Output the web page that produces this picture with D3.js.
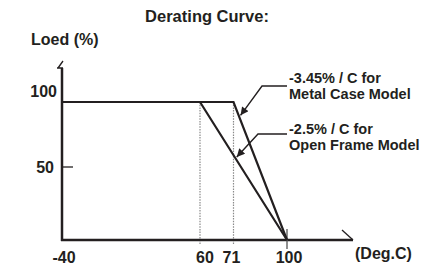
<!DOCTYPE html>
<html>
<head>
<meta charset="utf-8">
<script src="https://cdn.jsdelivr.net/npm/d3@7"></script>
<style>
  body { margin: 0; background: #fff; }
  svg { display: block; }
  text { font-family: "Liberation Sans", Arial, sans-serif; font-weight: bold; fill: #231f20; }
</style>
</head>
<body>
<svg class="chart"></svg>
<script>
// temperature ticks (Deg.C) and load ticks (%)
const xTicks = [-40, 60, 71, 100];
const yTicks = [50, 100];

// derating curves: [temperature, load %]
const metalCase = [[-40, 100], [71, 100], [100, 0]];
const openFrame = [[-40, 100], [60, 100], [100, 0]];

// callouts: text and the load (%) on the sloped part where the arrow lands
const notes = [
  { lines: ['-3.45% / C for', 'Metal Case Model'], curve: metalCase, load: 89 },
  { lines: ['-2.5% / C for', 'Open Frame Model'], curve: openFrame, load: 57 }
];

const W = 447, H = 270;
const ink = '#231f20';

const svg = d3.select('.chart').attr('width', W).attr('height', H);

// the drawing is not to scale, so piecewise scales keep the ticks where they sit
const x = d3.scaleLinear().domain(xTicks).range([62, 200, 233.5, 287]);
const y = d3.scaleLinear().domain([0, 50, 100]).range([240, 167, 102]);
const xEnd = 353, yTop = 68;

svg.append('defs').append('marker')
  .attr('id', 'arrow')
  .attr('viewBox', '0 0 10 10')
  .attr('refX', 10).attr('refY', 5)
  .attr('markerWidth', 11).attr('markerHeight', 8)
  .attr('markerUnits', 'userSpaceOnUse')
  .attr('orient', 'auto')
  .append('path').attr('d', 'M0,0 L10,5 L0,10 Z').attr('fill', ink);

// title and axis titles
svg.append('text').attr('x', 207).attr('y', 22).attr('text-anchor', 'middle')
  .style('font-size', '16.5px').text('Derating Curve:');
svg.append('text').attr('x', 31).attr('y', 45)
  .style('font-size', '16px').text('Loed (%)');
svg.append('text').attr('x', 355).attr('y', 259)
  .style('font-size', '16px').text('(Deg.C)');

// dotted guides at the knee temperatures
svg.selectAll('.guide')
  .data(xTicks.filter(d => d > -40 && d < 100))
  .enter().append('line')
  .attr('class', 'guide')
  .attr('x1', d => x(d)).attr('x2', d => x(d))
  .attr('y1', y(100)).attr('y2', y(0) + 5)
  .attr('stroke', '#8a8a8a').attr('stroke-width', 1.2)
  .attr('stroke-dasharray', '1.5,1.2');

// axes
svg.append('line')
  .attr('x1', x(-40)).attr('x2', x(-40)).attr('y1', yTop).attr('y2', y(0) + 1)
  .attr('stroke', ink).attr('stroke-width', 2.5);
svg.append('line')
  .attr('x1', x(-40) - 1).attr('x2', xEnd).attr('y1', y(0)).attr('y2', y(0))
  .attr('stroke', ink).attr('stroke-width', 2.5);

// little break marks at the axis ends
svg.append('path')
  .attr('d', `M${x(-40) - 5},${yTop} L${x(-40) + 1},${yTop} M${x(-40) - 4},${yTop} L${x(-40) + 1},${yTop - 7}`)
  .attr('fill', 'none').attr('stroke', ink).attr('stroke-width', 1.3);
svg.append('path')
  .attr('d', `M${xEnd},${y(0)} L${xEnd - 11},${y(0) - 10}`)
  .attr('fill', 'none').attr('stroke', ink).attr('stroke-width', 1.3);

// y ticks and labels
svg.selectAll('.ytick')
  .data(yTicks.filter(d => d < 100))
  .enter().append('line')
  .attr('x1', x(-40)).attr('x2', x(-40) + 11)
  .attr('y1', d => y(d)).attr('y2', d => y(d))
  .attr('stroke', ink).attr('stroke-width', 1.3);
svg.selectAll('.ylabel')
  .data(yTicks)
  .enter().append('text')
  .attr('x', d => d === 100 ? 57 : 54)
  .attr('y', d => y(d) + (d === 100 ? -5 : 6))
  .attr('text-anchor', 'end')
  .style('font-size', '16px')
  .text(d => d);

// x tick at the end temperature, and labels
svg.append('line')
  .attr('x1', x(100)).attr('x2', x(100)).attr('y1', y(0) - 11).attr('y2', y(0) + 9)
  .attr('stroke', '#555').attr('stroke-width', 1.3);
svg.selectAll('.xlabel')
  .data(xTicks)
  .enter().append('text')
  .attr('x', d => x(d) + (d === 60 ? 5 : d === 71 ? -2 : 2))
  .attr('y', 263)
  .attr('text-anchor', 'middle')
  .style('font-size', '16px')
  .text(d => d);

// curves
const line = d3.line().x(d => x(d[0])).y(d => y(d[1]));
svg.selectAll('.curve')
  .data([metalCase, openFrame])
  .enter().append('path')
  .attr('d', line)
  .attr('fill', 'none').attr('stroke', ink).attr('stroke-width', 2.2)
  .attr('stroke-linejoin', 'miter');

// point on the drawn sloped segment at a given load
const pointAt = (curve, load) => {
  const [a, b] = curve.slice(-2);
  const py = y(load);
  const f = (py - y(a[1])) / (y(b[1]) - y(a[1]));
  return [x(a[0]) + f * (x(b[0]) - x(a[0])), py];
};

// annotations with leader arrows
const textX = 289;
notes.forEach((n, i) => {
  const base = i === 0 ? 83 : 134;
  const t = svg.append('text').attr('x', textX).attr('y', base).style('font-size', '14.5px');
  n.lines.forEach((s, j) => t.append('tspan').attr('x', textX).attr('dy', j ? 16 : 0).text(s));
  const ly = i === 0 ? 86 : 134;
  const kneeX = i === 0 ? 262 : 258;
  const [tx, ty] = pointAt(n.curve, n.load);
  svg.append('path')
    .attr('d', `M${textX - 2},${ly} L${kneeX},${ly} L${tx + 1.5},${ty - 1}`)
    .attr('fill', 'none').attr('stroke', ink).attr('stroke-width', 1.4)
    .attr('marker-end', 'url(#arrow)');
});
</script>
</body>
</html>
